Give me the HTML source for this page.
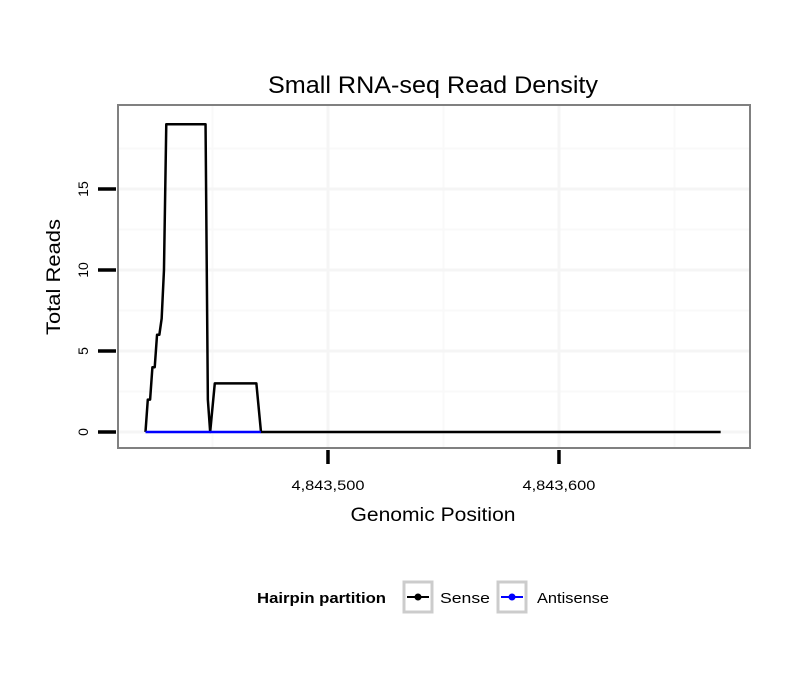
<!DOCTYPE html>
<html><head><meta charset="utf-8"><style>
body{margin:0;background:#fff;font-family:"Liberation Sans",sans-serif}
</style></head><body>
<svg id="chart" width="810" height="690" xmlns="http://www.w3.org/2000/svg" font-family="Liberation Sans, sans-serif">
<rect width="810" height="690" fill="#fff"/>
<text x="433" y="93" font-size="24" text-anchor="middle" textLength="330" lengthAdjust="spacingAndGlyphs">Small RNA-seq Read Density</text>
<g id="grid"></g>
<g id="axes"></g>
<g id="series"></g>
<rect x="118" y="105" width="632" height="343" fill="none" stroke="#808080" stroke-width="2"/>
<text x="433" y="521" font-size="19" text-anchor="middle" textLength="165" lengthAdjust="spacingAndGlyphs">Genomic Position</text>
<text transform="translate(60,277) rotate(-90)" font-size="19" text-anchor="middle" textLength="116" lengthAdjust="spacingAndGlyphs">Total Reads</text>
<g>
<text x="257" y="603" font-size="15" font-weight="bold" textLength="129" lengthAdjust="spacingAndGlyphs">Hairpin partition</text>
<g>
<rect x="404" y="582" width="28" height="30" fill="#fff" stroke="#ccc" stroke-width="3"/>
<line x1="407" y1="597" x2="429" y2="597" stroke="#000" stroke-width="2"/>
<circle cx="418" cy="597" r="3.5" fill="#000"/>
<text x="440" y="603" font-size="15" textLength="50" lengthAdjust="spacingAndGlyphs">Sense</text></g>
<g>
<rect x="498" y="582" width="28" height="30" fill="#fff" stroke="#ccc" stroke-width="3"/>
<line x1="501" y1="597" x2="523" y2="597" stroke="#00f" stroke-width="2"/>
<circle cx="512" cy="597" r="3.5" fill="#00f"/>
<text x="537" y="603" font-size="15" textLength="72" lengthAdjust="spacingAndGlyphs">Antisense</text></g>
</g>
</svg>
<script>
const senseX=[4843421,4843422,4843423,4843424,4843425,4843426,4843427,4843428,4843429,4843430,4843447,4843448,4843449,4843451,4843469,4843471,4843670];
const senseY=[0,2,2,4,4,6,6,7,10,19,19,2,0,3,3,0,0];
const antisenseX=[4843421,4843471];
const antisenseY=[0,0];
const xTicks=[4843500,4843600];
const xTickLabels=["4,843,500","4,843,600"];
const yTicks=[0,5,10,15];
const yTickLabels=["0","5","10","15"];
const NS="http://www.w3.org/2000/svg";
const L=118,R=750,T=105,B=448;
const xMin=4843409.1,xMax=4843682.7,yMin=-0.99,yMax=20.19;
function sx(v){return L+(v-xMin)/(xMax-xMin)*(R-L);}
function sy(v){return B-(v-yMin)/(yMax-yMin)*(B-T);}
function mk(tag,attrs,parent){const e=document.createElementNS(NS,tag);for(const k in attrs)e.setAttribute(k,attrs[k]);parent.appendChild(e);return e;}
const grid=document.getElementById('grid'),axes=document.getElementById('axes'),series=document.getElementById('series');
const xStep=xTicks[1]-xTicks[0];
for(let v=xTicks[0]-xStep*1.5;v<xMax;v+=xStep){if(v<xMin)continue;const g=mk('line',{x1:sx(v),x2:sx(v),y1:T,y2:B,stroke:'#f9f9f9','stroke-width':2},grid);

}
for(let v=2.5;v<yMax;v+=5){const g=mk('line',{x1:L,x2:R,y1:sy(v),y2:sy(v),stroke:'#f9f9f9','stroke-width':2},grid);

}
xTicks.forEach((v,i)=>{const g=mk('line',{x1:sx(v),x2:sx(v),y1:T,y2:B,stroke:'#f5f5f5','stroke-width':3},grid);


const t=mk('line',{x1:sx(v),x2:sx(v),y1:B+2,y2:B+16,stroke:'#000','stroke-width':3.5},axes);


const l=mk('text',{x:sx(v),y:B+42,'font-size':14,'text-anchor':'middle',textLength:73,lengthAdjust:'spacingAndGlyphs'},axes);l.textContent=xTickLabels[i];

});
yTicks.forEach((v,i)=>{const g=mk('line',{x1:L,x2:R,y1:sy(v),y2:sy(v),stroke:'#f5f5f5','stroke-width':3},grid);


const t=mk('line',{x1:L-20,x2:L-2,y1:sy(v),y2:sy(v),stroke:'#000','stroke-width':3.5},axes);


const l=mk('text',{transform:`translate(${L-30},${sy(v)}) rotate(-90)`,'font-size':14,'text-anchor':'middle'},axes);l.textContent=yTickLabels[i];

});
function line(xs,ys,color,name){const p=mk('polyline',{points:xs.map((x,i)=>sx(x)+','+sy(ys[i])).join(' '),fill:'none',stroke:color,'stroke-width':2.5,'stroke-linejoin':'round'},series);

}
line(senseX,senseY,'#000','sense-line');
line(antisenseX,antisenseY,'#00f','antisense-line');
</script>
</body></html>
